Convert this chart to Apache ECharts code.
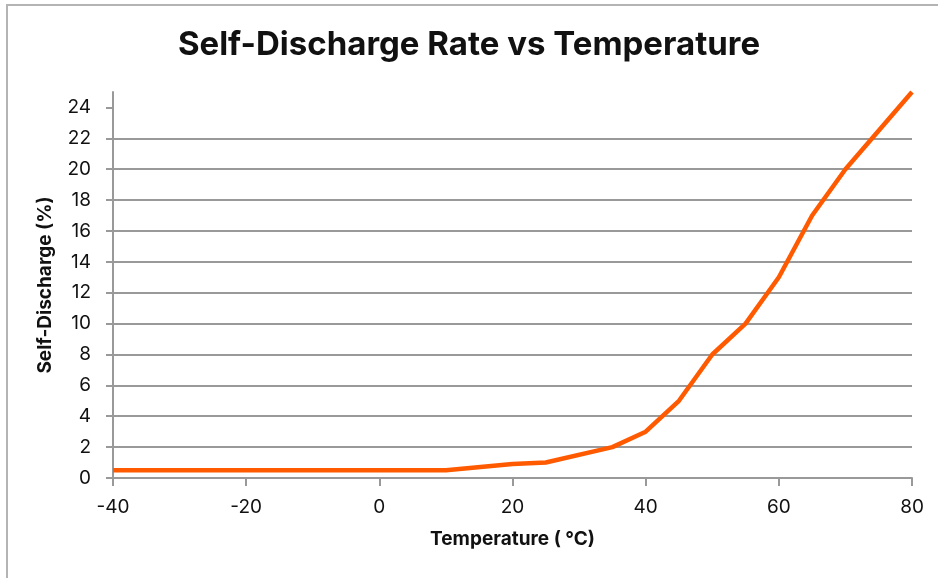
<!DOCTYPE html>
<html>
<head>
<meta charset="utf-8">
<script src="https://cdn.jsdelivr.net/npm/echarts@6/dist/echarts.min.js"></script>
<style>
    html, body { margin: 0; padding: 0; background: #fff; }
    #frame {
        position: absolute; left: 6px; top: 4px; width: 940px; height: 580px;
        border-left: 2px solid #b4b4b4; border-top: 2px solid #b4b4b4;
    }
    #chart { position: absolute; left: 0; top: 0; width: 938px; height: 578px; }
</style>
</head>
<body>
<div id="frame"></div>
<div id="chart"></div>
<script>
// temperature in °C
const temps = [-40, -20, 0, 10, 20, 25, 35, 40, 45, 50, 55, 60, 65, 70, 80];
// self-discharge in %
const discharge = [0.5, 0.5, 0.5, 0.5, 0.9, 1.0, 2.0, 3.0, 5.0, 8.0, 10.0, 13.0, 17.0, 20.0, 25.0];
const xTicks = [-40, -20, 0, 20, 40, 60, 80];
const yTicks = [0, 2, 4, 6, 8, 10, 12, 14, 16, 18, 20, 22, 24];

const font = 'Inter, "Noto Sans", sans-serif';
const gridGrey = '#999999';

const chart = echarts.init(document.getElementById('chart'));
chart.setOption({
    animation: false,
    title: {
        text: 'Self-Discharge Rate vs Temperature',
        left: 'center',
        top: 24,
        textStyle: { fontFamily: font, fontSize: 33, fontWeight: 'bold', color: '#111' }
    },
    grid: { left: 113, right: 26, top: 92, bottom: 100 },
    xAxis: {
        type: 'value',
        min: -40, max: 80, interval: 20,
        name: 'Temperature ( °C)',
        nameLocation: 'middle',
        nameGap: 52,
        nameTextStyle: { fontFamily: font, fontSize: 19, fontWeight: 'bold', color: '#111' },
        axisLine: { show: true, onZero: false, lineStyle: { color: gridGrey, width: 2 } },
        axisTick: { show: true, length: 8, customValues: xTicks, lineStyle: { color: gridGrey, width: 2 } },
        axisLabel: { fontFamily: font, fontSize: 19, color: '#111', margin: 20, customValues: xTicks },
        splitLine: { show: false }
    },
    yAxis: {
        type: 'value',
        min: 0, max: 25, interval: 2,
        name: 'Self-Discharge (%)',
        nameLocation: 'middle',
        nameGap: 58,
        nameTextStyle: { fontFamily: font, fontSize: 19, fontWeight: 'bold', color: '#111' },
        axisLine: { show: true, onZero: false, lineStyle: { color: gridGrey, width: 2 } },
        axisTick: { show: true, length: 7, customValues: yTicks, lineStyle: { color: gridGrey, width: 2 } },
        axisLabel: { fontFamily: font, fontSize: 19, color: '#111', margin: 22, customValues: yTicks },
        splitLine: { show: true, showMaxLine: false, lineStyle: { color: gridGrey, width: 2 } }
    },
    series: [{
        type: 'line',
        data: temps.map((t, i) => [t, discharge[i]]),
        showSymbol: false,
        lineStyle: { color: '#ff5a00', width: 4.5 },
        clip: false
    }]
});
</script>
</body>
</html>
